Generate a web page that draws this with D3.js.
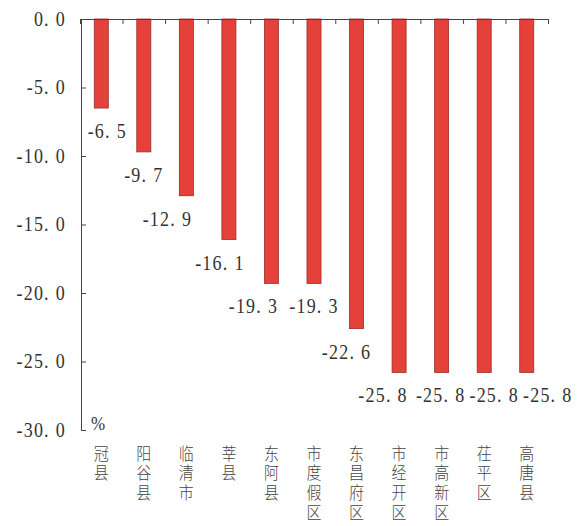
<!DOCTYPE html>
<html><head><meta charset="utf-8">
<script src="https://cdn.jsdelivr.net/npm/d3@7"></script>
<style>body{margin:0;background:#fff}svg{display:block}</style>
</head><body>
<svg id="chart" width="582" height="526"></svg>
<script>
// ---- data ----
const categories = ["冠县","阳谷县","临清市","莘县","东阿县","市度假区","东昌府区","市经开区","市高新区","茌平区","高唐县"];
const values = [-6.5,-9.7,-12.9,-16.1,-19.3,-19.3,-22.6,-25.8,-25.8,-25.8,-25.8];
const yTicks = [0,-5,-10,-15,-20,-25,-30];
const unitLabel = "%";
// label nudges (px) so that neighbouring value labels do not collide
const labelDx = [6,0,-19,-9,-18,0,-10,-16,-1,10,21];

// ---- drawing ----
const svg = d3.select("#chart");
svg.append("rect").attr("width",582).attr("height",526).attr("fill","#fff");

const x = d3.scaleBand().domain(categories).range([80,548]).paddingInner(0.67).paddingOuter(0.335);
const y = d3.scaleLinear().domain([0,-30]).range([19,430]);
const xb = d3.scaleLinear().domain([0,categories.length]).range(x.range());
const stretch = 1.15;
const numFont = "'Liberation Serif','Times New Roman',serif";
const cjkFont = "'Noto Sans CJK SC','Noto Sans CJK JP',sans-serif";
const ink = "#333";

function numText(sel, v, gap){
  const s = v.toFixed(1);
  const parts = s.split(".");
  sel.append("tspan").text(parts[0] + ".");
  sel.append("tspan").attr("dx", gap).text(parts[1]);
}

// bars
svg.append("g").selectAll("rect").data(values).join("rect")
  .attr("x",(d,i)=>x(categories[i]))
  .attr("y",y(0))
  .attr("width",x.bandwidth())
  .attr("height",d=>y(d)-y(0))
  .attr("fill","#e5413b")
  .attr("stroke","#9a2d28")
  .attr("stroke-width",0.8);

// top axis line with inward ticks at band boundaries
const topAxis = svg.append("g").attr("transform",`translate(0,${y(0)})`)
  .call(d3.axisTop(xb).tickValues(d3.range(0,categories.length+1)).tickSize(-5).tickSizeOuter(0).tickFormat(""));
topAxis.selectAll("path,line").attr("stroke","#444");

// left axis
const left = svg.append("g").attr("transform",`translate(81,0)`)
  .call(d3.axisLeft(y).tickValues(yTicks).tickSize(-5).tickSizeOuter(0).tickFormat(""));
left.selectAll("path,line").attr("stroke","#444");

// y labels
svg.append("g").selectAll("text").data(yTicks).join("text")
  .attr("transform",d=>`translate(66,${y(d)+6.5}) scale(1,${stretch})`)
  .attr("text-anchor","end")
  .attr("font-family",numFont).attr("font-size",18).attr("fill",ink)
  .attr("letter-spacing",1.2)
  .each(function(d){ numText(d3.select(this), d, 6); });

// unit label
svg.append("text")
  .attr("transform",`translate(91,${y(-30)}) scale(1,${stretch})`)
  .attr("font-family",numFont).attr("font-size",17).attr("fill",ink)
  .text(unitLabel);

// value labels
svg.append("g").selectAll("text").data(values).join("text")
  .attr("transform",(d,i)=>`translate(${x(categories[i])+x.bandwidth()/2+labelDx[i]},${y(d)+30}) scale(1,${stretch})`)
  .attr("text-anchor","middle")
  .attr("font-family",numFont).attr("font-size",18).attr("fill",ink)
  .attr("letter-spacing",1.2)
  .each(function(d){ numText(d3.select(this), d, 6); });

// category labels (vertical writing, one text per category)
const cjkStretch = 1.1;
svg.append("g").selectAll("text").data(categories).join("text")
  .attr("transform",d=>`translate(${x(d)+x.bandwidth()/2},445) scale(1,${cjkStretch})`)
  .attr("x",0).attr("y",0)
  .style("writing-mode","vertical-rl")
  .style("text-orientation","upright")
  .attr("font-family",cjkFont).attr("font-size",15).attr("font-weight",300).attr("fill","#444")
  .attr("letter-spacing",2.9)
  .text(d=>d);
</script>
</body></html>
